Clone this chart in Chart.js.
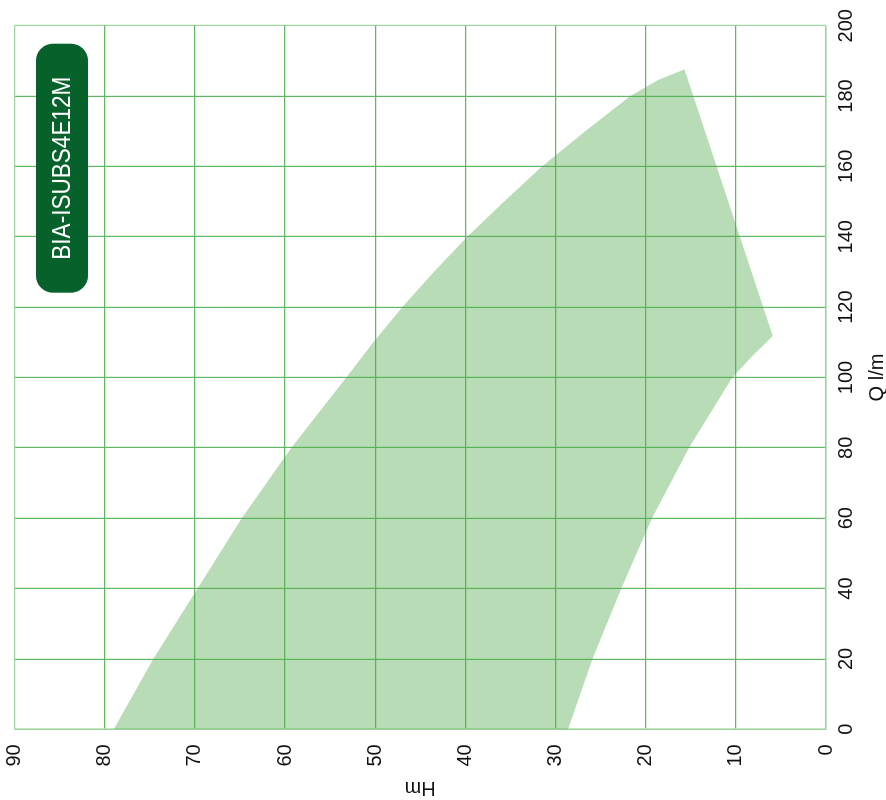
<!DOCTYPE html>
<html>
<head>
<meta charset="utf-8">
<script src="https://cdn.jsdelivr.net/npm/chart.js@4.4.1/dist/chart.umd.min.js"></script>
<style>
  html, body { margin: 0; padding: 0; background: #fff; overflow: hidden; }
  /* the chart is drawn Q across / H up, then the whole thing is turned a quarter left */
  #wrap {
    position: absolute; left: 0; top: 0; width: 800px; height: 886px;
    transform-origin: 0 0;
    transform: translate(0, 800px) rotate(-90deg);
  }
</style>
</head>
<body>
<div id="wrap"><canvas id="pump_curve" width="800" height="886"></canvas></div>
<script>
// Pump range: flow Q (l/min) vs head H (m)
const modelLabel = 'BIA-ISUBS4E12M';

// upper curve (max impeller)
const qMax = [0, 20, 40, 60, 80, 100, 110, 120, 130, 140, 150, 160, 170, 180, 184.6, 187.6];
const hMax = [79.0, 74.6, 69.7, 64.8, 59.3, 53.2, 50.2, 47.0, 43.5, 39.8, 35.7, 31.5, 26.7, 21.7, 18.6, 15.7];

// lower curve (min impeller), ends at the low tip
const qMin = [0, 20, 40, 60, 80, 100, 106, 111.8];
const hMin = [28.6, 25.9, 22.7, 19.3, 15.2, 10.4, 8.2, 5.9];

const qTicks = { min: 0, max: 200, step: 20 };
const hTicks = { min: 0, max: 90, step: 10 };

// walk round the area: lower curve out, straight edge across, upper curve back
const outline = [];
qMin.forEach((q, i) => outline.push({ x: q, y: hMin[i] }));
for (let i = qMax.length - 1; i >= 0; i--) {
  outline.push({ x: qMax[i], y: hMax[i] });
}

const gridInner = '#62b862';
const gridEdge = '#9ed49e';
const tickFont = { family: "'Liberation Sans', Arial, sans-serif", size: 20 };

const badgePlugin = {
  id: 'badge',
  afterDraw(chart) {
    const { ctx, chartArea } = chart;
    const w = 249, h = 52, r = 17;
    const x = chartArea.right - 18 - w;
    const y = chartArea.top + 21.5;
    ctx.save();
    ctx.fillStyle = '#07612b';
    ctx.beginPath();
    ctx.roundRect(x, y, w, h, r);
    ctx.fill();
    ctx.fillStyle = '#ffffff';
    ctx.font = "26px 'Liberation Sans', Arial, sans-serif";
    ctx.textAlign = 'center';
    ctx.textBaseline = 'middle';
    const tw = ctx.measureText(modelLabel).width;
    ctx.translate(x + w / 2, y + h / 2 + 0.5);
    ctx.scale(183 / tw, 1);
    ctx.fillText(modelLabel, 0, 0);
    ctx.restore();
  }
};

const ctx = document.getElementById('pump_curve').getContext('2d');
const pumpChart = new Chart(ctx, {
  type: 'line',
  data: {
    datasets: [{
      label: modelLabel,
      data: outline,
      fill: 'shape',
      backgroundColor: 'rgba(78, 170, 73, 0.4)',
      borderWidth: 0,
      pointRadius: 0,
      tension: 0
    }]
  },
  options: {
    responsive: false,
    animation: false,
    devicePixelRatio: 1,
    layout: { padding: { left: 0, right: 25.7, top: 14.5, bottom: 0 } },
    plugins: {
      legend: { display: false },
      tooltip: { enabled: false }
    },
    scales: {
      x: {
        type: 'linear',
        position: 'bottom',
        min: qTicks.min,
        max: qTicks.max,
        afterFit: s => { s.height = 60; s.paddingLeft = 0; s.paddingRight = 0; },
        ticks: { stepSize: qTicks.step, padding: 8, color: '#111', font: tickFont, maxRotation: 0 },
        grid: {
          drawTicks: false,
          lineWidth: 1.2,
          color: c => (c.tick && (c.tick.value === qTicks.min || c.tick.value === qTicks.max)) ? gridEdge : gridInner
        },
        border: { color: gridEdge, width: 1.5 },
        title: {
          display: true,
          text: 'Q l/m',
          color: '#111',
          font: { family: tickFont.family, size: 20, lineHeight: 1 },
          padding: { top: 0, bottom: -1.5 }
        }
      },
      y: {
        type: 'linear',
        position: 'left',
        min: hTicks.min,
        max: hTicks.max,
        afterFit: s => { s.width = 70.7; s.paddingTop = 0; s.paddingBottom = 0; },
        ticks: { stepSize: hTicks.step, padding: 15, color: '#111', font: tickFont },
        grid: {
          drawTicks: false,
          lineWidth: 1.2,
          color: c => (c.tick && (c.tick.value === hTicks.min || c.tick.value === hTicks.max)) ? gridEdge : gridInner
        },
        border: { color: gridEdge, width: 1.5 },
        title: {
          display: true,
          text: 'Hm',
          color: '#111',
          font: { family: tickFont.family, size: 20 },
          padding: 0
        }
      }
    }
  },
  plugins: [badgePlugin]
});
</script>
</body>
</html>
